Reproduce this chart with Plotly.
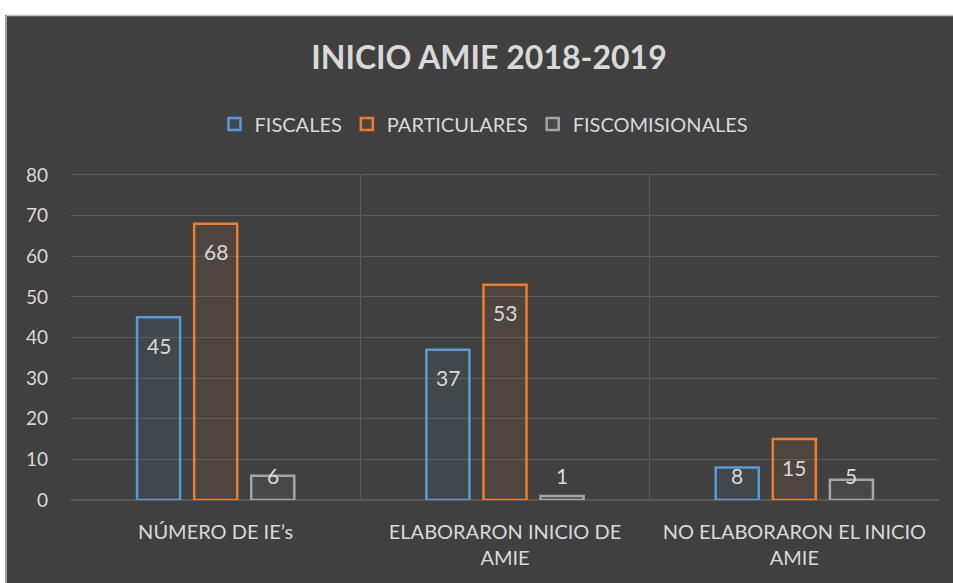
import plotly.graph_objects as go

categories = ["NÚMERO DE IE’s", "ELABORARON INICIO DE<br>AMIE", "NO ELABORARON EL INICIO<br>AMIE"]
series_names = ["FISCALES", "PARTICULARES", "FISCOMISIONALES"]
fiscales = [45, 37, 8]
particulares = [68, 53, 15]
fiscomisionales = [6, 1, 5]
y_ticks = [0, 10, 20, 30, 40, 50, 60, 70, 80]

colors = ["#5B9BD5", "#ED7D31", "#A5A5A5"]
fills = ["rgba(91,155,213,0.08)", "rgba(237,125,49,0.08)", "rgba(165,165,165,0.08)"]
txt = "#D9D9D9"
bg = "#404040"
font_family = "Lato, 'Open Sans', sans-serif"

fig = go.Figure()
all_series = [fiscales, particulares, fiscomisionales]
for name, vals, c, f in zip(series_names, all_series, colors, fills):
    fig.add_trace(go.Bar(
        x=categories, y=vals, name=name,
        marker=dict(color=f, line=dict(color=c, width=2.5)),
    ))

# data labels ("inside end" style)
annotations = []
offsets = [-57, 0, 57]
for vals, dx in zip(all_series, offsets):
    for cat, v in zip(categories, vals):
        annotations.append(dict(
            x=cat, y=max(v - 6.9, 6.15), xref="x", yref="y",
            text=str(v), showarrow=False, xshift=dx,
            font=dict(size=21, color=txt, family=font_family),
        ))

W, H = 953, 583
L, T = 71, 175
R = W - 939
B = H - 500
pw, ph = W - L - R, H - T - B


def px_x(p):
    return (p - L) / pw


def px_y(p):
    return 1 - (p - T) / ph


shapes = [
    # white strip at the top
    dict(type="rect", xref="paper", yref="paper", layer="below",
         x0=px_x(-10), x1=px_x(W + 10), y0=px_y(15), y1=px_y(-10),
         fillcolor="white", line=dict(width=0)),
    # white strip at the left
    dict(type="rect", xref="paper", yref="paper", layer="below",
         x0=px_x(-10), x1=px_x(5), y0=px_y(H + 10), y1=px_y(-10),
         fillcolor="white", line=dict(width=0)),
    # light border of the chart area
    dict(type="line", xref="paper", yref="paper", layer="below",
         x0=px_x(6), x1=px_x(W + 10), y0=px_y(15.5), y1=px_y(15.5),
         line=dict(color="#BFBFBF", width=1.5)),
    dict(type="line", xref="paper", yref="paper", layer="below",
         x0=px_x(6), x1=px_x(6), y0=px_y(15.5), y1=px_y(H + 10),
         line=dict(color="#BFBFBF", width=1.5)),
]

fig.update_layout(
    width=W, height=H,
    margin=dict(l=L, r=R, t=T, b=B),
    paper_bgcolor=bg,
    plot_bgcolor=bg,
    barmode="group",
    bargap=0.408,
    bargroupgap=0.246,
    font=dict(family=font_family, color=txt, size=20),
    title=dict(text="<b>INICIO AMIE 2018-2019</b>", x=489 / W, xanchor="center",
               y=1 - 58 / H, yanchor="middle",
               font=dict(size=32, color=txt, family=font_family)),
    legend=dict(orientation="h", x=px_x(484), xanchor="center",
                y=px_y(124),
                yanchor="middle", font=dict(size=20, color=txt), bgcolor="rgba(0,0,0,0)",
                itemwidth=30),
    shapes=shapes,
    annotations=annotations,
)
fig.update_xaxes(tickson="boundaries", showgrid=True, gridcolor="#595959", gridwidth=1,
                 showline=True, linecolor="#595959", mirror=True, ticks="",
                 tickfont=dict(size=20, color=txt), ticklabelstandoff=14)
fig.update_yaxes(range=[0, 80], tickvals=y_ticks, showgrid=True, gridcolor="#595959",
                 gridwidth=1, zeroline=True, zerolinecolor="#595959", ticks="",
                 showline=False, tickfont=dict(size=19, color=txt), ticklabelstandoff=22)

fig.write_html(
    "out.html",
    config={"displayModeBar": False},
    post_script=(
        "document.documentElement.style.overflow='hidden';"
        "document.body.style.overflow='hidden';"
        "document.body.style.margin='0';"
        "document.body.style.background='#404040';"
    ),
)
